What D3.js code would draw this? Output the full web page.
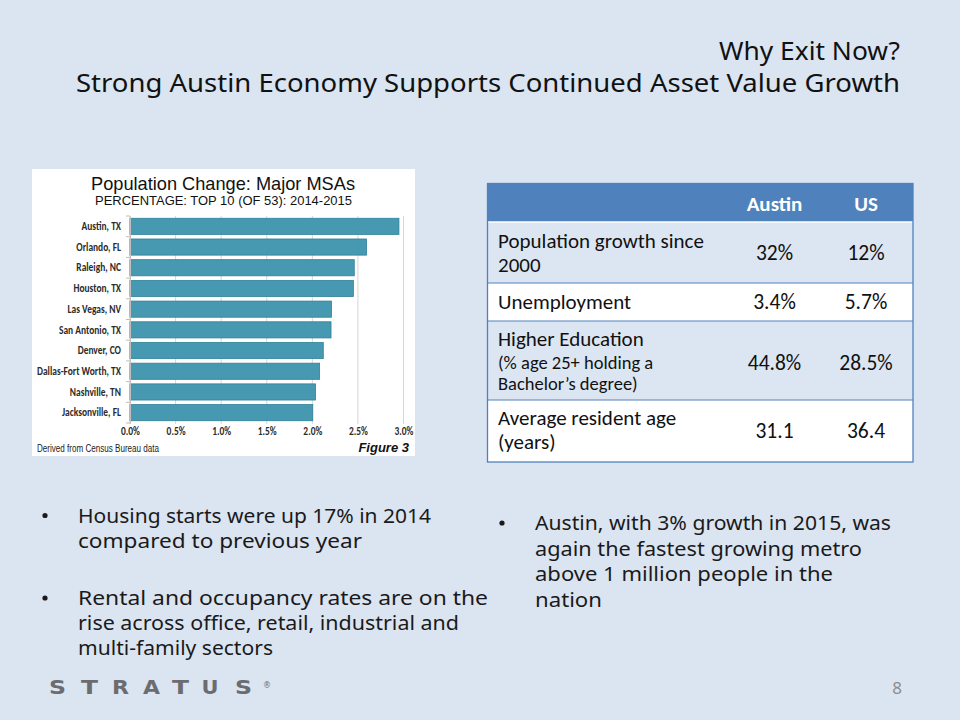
<!DOCTYPE html>
<html>
<head>
<meta charset="utf-8">
<script src="https://cdn.jsdelivr.net/npm/d3@7"></script>
<style>
  html, body { margin: 0; padding: 0; background: #dbe4f1; }
  svg { display: block; }
</style>
</head>
<body>
<svg id="slide" width="960" height="720"></svg>
<script>
// ---------- data ----------
const titleLines = ["Why Exit Now?", "Strong Austin Economy Supports Continued Asset Value Growth"];
const chartTitle = "Population Change: Major MSAs";
const chartSubtitle = "PERCENTAGE: TOP 10 (OF 53): 2014-2015";
const metros = ["Austin, TX", "Orlando, FL", "Raleigh, NC", "Houston, TX", "Las Vegas, NV",
                "San Antonio, TX", "Denver, CO", "Dallas-Fort Worth, TX", "Nashville, TN", "Jacksonville, FL"];
const growthPct = [2.95, 2.595, 2.46, 2.45, 2.21, 2.205, 2.12, 2.08, 2.035, 2.005];
const xTicks = [0, 0.5, 1.0, 1.5, 2.0, 2.5, 3.0];
const sourceNote = "Derived from Census Bureau data";
const figureLabel = "Figure 3";

const tableHeader = ["", "Austin", "US"];
const rowLabels = [
  ["Population growth since", "2000"],
  ["Unemployment"],
  ["Higher Education", "(% age 25+ holding a", "Bachelor\u2019s degree)"],
  ["Average resident age", "(years)"]
];
const austinValues = ["32%", "3.4%", "44.8%", "31.1"];
const usValues = ["12%", "5.7%", "28.5%", "36.4"];

const leftBullets = [
  ["Housing starts were up 17% in 2014", "compared to previous year"],
  ["Rental and occupancy rates are on the", "rise across office, retail, industrial and", "multi-family sectors"]
];
const rightBullets = [
  ["Austin, with 3% growth in 2015, was", "again the fastest growing metro", "above 1 million people in the", "nation"]
];
const logoLetters = ["S", "T", "R", "A", "T", "U", "S"];
const pageNumber = "8";

// ---------- drawing ----------
const svg = d3.select("#slide");
const GOTHIC = "'Century Gothic', 'URW Gothic', 'Noto Sans', 'DejaVu Sans', sans-serif";
const CAL = "Calibri, Carlito, Lato, 'Open Sans', sans-serif";
const ARIAL = "Arial, 'Liberation Sans', sans-serif";

svg.append("rect").attr("width", 960).attr("height", 720).attr("fill", "#dbe4f1");

function fit(sel, w) {
  sel.attr("textLength", w).attr("lengthAdjust", "spacingAndGlyphs");
  return sel;
}
function condense(sel, factor) {
  sel.each(function () {
    const w = this.getComputedTextLength();
    d3.select(this).attr("textLength", w * factor).attr("lengthAdjust", "spacingAndGlyphs");
  });
}

// Title
const titleG = svg.append("g").attr("font-family", GOTHIC).attr("fill", "#111");
fit(titleG.append("text").attr("x", 900).attr("y", 60).attr("text-anchor", "end")
  .attr("font-size", 26).text(titleLines[0]), 181);
fit(titleG.append("text").attr("x", 900).attr("y", 92).attr("text-anchor", "end")
  .attr("font-size", 26).text(titleLines[1]), 824);

// ---------- Chart ----------
const cb = { x: 32, y: 169, w: 383, h: 287 };
const cg = svg.append("g");
cg.append("rect").attr("x", cb.x).attr("y", cb.y).attr("width", cb.w).attr("height", cb.h)
  .attr("fill", "#ffffff");

fit(cg.append("text").attr("x", 223).attr("y", 189.5).attr("text-anchor", "middle")
  .attr("font-family", ARIAL).attr("font-size", 19).attr("fill", "#111").text(chartTitle), 264);
fit(cg.append("text").attr("x", 223.5).attr("y", 205).attr("text-anchor", "middle")
  .attr("font-family", ARIAL).attr("font-size", 13).attr("fill", "#111").text(chartSubtitle), 257);

const x = d3.scaleLinear().domain([0, 3]).range([130, 403.5]);
const y = d3.scaleBand().domain(metros).range([216, 423]).paddingInner(0.22).paddingOuter(0.11);

// grid
cg.append("g").selectAll("line").data(xTicks).join("line")
  .attr("x1", d => x(d)).attr("x2", d => x(d))
  .attr("y1", 216).attr("y2", 424)
  .attr("stroke", "#d6d6d6").attr("stroke-width", 1);

// bars
cg.append("g").selectAll("rect").data(metros).join("rect")
  .attr("x", x(0)).attr("y", d => y(d))
  .attr("width", (d, i) => x(growthPct[i]) - x(0))
  .attr("height", y.bandwidth())
  .attr("fill", "#4699b0").attr("stroke", "#2f8199").attr("stroke-width", 0.8);

// y axis
const yAxis = d3.axisLeft(y).tickSize(0).tickPadding(9);
const yg = cg.append("g").attr("transform", `translate(${x(0)},0)`).call(yAxis);
yg.select(".domain").attr("stroke", "#bfbfbf");
yg.selectAll("text").attr("font-family", CAL).attr("font-size", 11.5)
  .attr("font-weight", "bold").attr("fill", "#2b2b2b");
const longest = d3.max(yg.selectAll("text").nodes(), n => n.getComputedTextLength());
const labelFactor = 84 / longest;
condense(yg.selectAll("text"), labelFactor);

// category boundary ticks
cg.append("g").selectAll("line").data(d3.range(metros.length + 1)).join("line")
  .attr("x1", x(0) - 4).attr("x2", x(0))
  .attr("y1", i => 216 + i * y.step()).attr("y2", i => 216 + i * y.step())
  .attr("stroke", "#bfbfbf");

// x axis labels
const xAxis = d3.axisBottom(x).tickValues(xTicks).tickFormat(d => d3.format(".1f")(d) + "%").tickSize(0).tickPadding(3);
const xg = cg.append("g").attr("transform", "translate(0,424)").call(xAxis);
xg.select(".domain").remove();
xg.selectAll("text").attr("font-family", CAL).attr("font-size", 11.5)
  .attr("font-weight", "bold").attr("fill", "#2b2b2b");
condense(xg.selectAll("text"), labelFactor);

fit(cg.append("text").attr("x", 37).attr("y", 452).attr("font-family", ARIAL)
  .attr("font-size", 10).attr("fill", "#222").text(sourceNote), 122);
cg.append("text").attr("x", 409).attr("y", 451.5).attr("text-anchor", "end")
  .attr("font-family", ARIAL).attr("font-size", 13).attr("font-weight", "bold")
  .attr("font-style", "italic").attr("fill", "#111").text(figureLabel);

// ---------- Table ----------
const tb = { x: 487.5, w: 425.5 };
const rowEdges = [183.5, 222, 283, 321, 400, 462];
const colCenters = [null, 774.5, 866];
const tg = svg.append("g").attr("font-family", CAL);

const rowFills = ["#4f81bd", "#dce6f2", "#ffffff", "#dce6f2", "#ffffff"];
tg.selectAll("rect.row").data(d3.range(rowEdges.length - 1)).join("rect")
  .attr("class", "row")
  .attr("x", tb.x).attr("y", i => rowEdges[i])
  .attr("width", tb.w).attr("height", i => rowEdges[i + 1] - rowEdges[i])
  .attr("fill", i => rowFills[i]);
tg.selectAll("line.sep").data(rowEdges.slice(2, -1)).join("line")
  .attr("class", "sep")
  .attr("x1", tb.x).attr("x2", tb.x + tb.w).attr("y1", d => d).attr("y2", d => d)
  .attr("stroke", "#4f81bd").attr("stroke-width", 1.2);
tg.append("line").attr("x1", tb.x).attr("x2", tb.x + tb.w).attr("y1", rowEdges[1]).attr("y2", rowEdges[1])
  .attr("stroke", "#ffffff").attr("stroke-width", 1.5);
tg.append("rect").attr("x", tb.x).attr("y", rowEdges[0]).attr("width", tb.w)
  .attr("height", rowEdges[rowEdges.length - 1] - rowEdges[0])
  .attr("fill", "none").attr("stroke", "#4f81bd").attr("stroke-width", 1.3);

tableHeader.forEach((h, j) => {
  if (!h) return;
  tg.append("text").attr("x", colCenters[j]).attr("y", 211).attr("text-anchor", "middle")
    .attr("font-size", 21).attr("font-weight", "bold").attr("fill", "#ffffff").text(h);
});

const labelBaselines = [[248, 271.5], [309], [345.5, 369, 390], [424.5, 448.5]];
const labelSizes = [[21, 21], [21], [21, 18.5, 18.5], [21, 21]];
const valueBaselines = [260, 309, 370, 438];
rowLabels.forEach((lines, i) => {
  lines.forEach((t, k) => {
    tg.append("text").attr("x", 498).attr("y", labelBaselines[i][k])
      .attr("font-size", labelSizes[i][k]).attr("fill", "#111").text(t);
  });
  tg.append("text").attr("x", colCenters[1]).attr("y", valueBaselines[i]).attr("text-anchor", "middle")
    .attr("font-size", 21.5).attr("fill", "#111").text(austinValues[i]);
  tg.append("text").attr("x", colCenters[2]).attr("y", valueBaselines[i]).attr("text-anchor", "middle")
    .attr("font-size", 21.5).attr("fill", "#111").text(usValues[i]);
});

// ---------- Bullets ----------
const bg = svg.append("g").attr("font-family", GOTHIC).attr("fill", "#1a1a1a");
const leftWidths = [[353, 284], [410, 381, 195]];
const leftStarts = [522.5, 605];
leftBullets.forEach((lines, b) => {
  bg.append("circle").attr("cx", 45).attr("cy", leftStarts[b] - 7).attr("r", 2.6).attr("fill", "#1a1a1a");
  lines.forEach((t, k) => {
    fit(bg.append("text").attr("x", 78).attr("y", leftStarts[b] + k * 25).attr("font-size", 20).text(t),
      leftWidths[b][k]);
  });
});
const rightWidths = [[356, 327, 298, 67]];
rightBullets.forEach((lines, b) => {
  bg.append("circle").attr("cx", 502).attr("cy", 523).attr("r", 2.6).attr("fill", "#1a1a1a");
  lines.forEach((t, k) => {
    fit(bg.append("text").attr("x", 535).attr("y", 530 + k * 25.6).attr("font-size", 20).text(t),
      rightWidths[b][k]);
  });
});

// ---------- Footer ----------
const lg = svg.append("g").attr("fill", "#6b6c6f").attr("font-family", "'DejaVu Sans', Arial, sans-serif")
  .attr("font-weight", "bold");
const logoCenters = [57.5, 89.5, 120.5, 151.5, 180.5, 210, 243.5];
logoLetters.forEach((ch, i) => {
  fit(lg.append("text").attr("x", logoCenters[i] - 8.5).attr("y", 693.5).attr("font-size", 19).text(ch), 17);
});
lg.append("text").attr("x", 263).attr("y", 688).attr("font-size", 8).attr("font-weight", "normal").text("\u00AE");

svg.append("text").attr("x", 902).attr("y", 694).attr("text-anchor", "end")
  .attr("font-family", GOTHIC).attr("font-size", 17).attr("fill", "#8c8c8c").text(pageNumber);
</script>
</body>
</html>
